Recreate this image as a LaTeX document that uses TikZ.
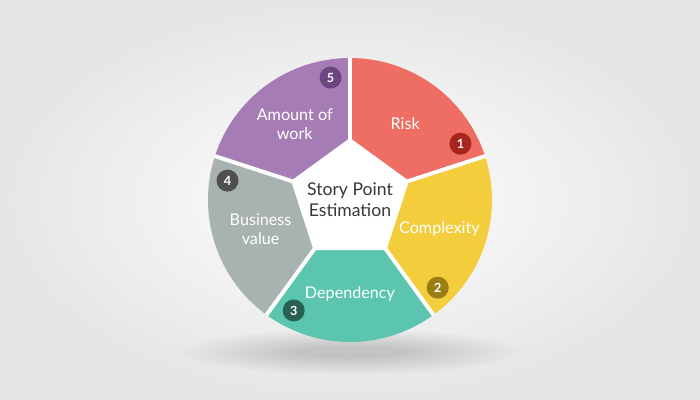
\documentclass[tikz,border=0pt]{standalone}
\usepackage{fontspec}
\setmainfont{Lato}
\definecolor{riskred}{HTML}{EE6E63}
\definecolor{riskdark}{HTML}{A8251C}
\definecolor{complexyellow}{HTML}{F4CD3C}
\definecolor{complexdark}{HTML}{9A7E14}
\definecolor{dependteal}{HTML}{5CC5AF}
\definecolor{dependdark}{HTML}{286052}
\definecolor{businessgrey}{HTML}{A8B2B1}
\definecolor{businessdark}{HTML}{4F4F4F}
\definecolor{amountpurple}{HTML}{A57CB4}
\definecolor{amountdark}{HTML}{6B4683}
\definecolor{centretext}{HTML}{383838}
\newcommand{\segrad}{142}
\newcommand{\pentrad}{62}
\newcommand{\badgerad}{124}
\newcommand{\labelrad}{94}

\begin{document}
\begin{tikzpicture}[x=0.025cm,y=0.025cm,
  badge/.style={circle, inner sep=0pt, minimum size=0.55cm, text=white,
    font=\bfseries\fontsize{9}{9}\selectfont},
  seglabel/.style={text=white, align=center, font=\fontsize{11.5}{13.5}\selectfont}]
% background
\shade[inner color=white, outer color=black!10] (-350,-200) rectangle (350,200);
\useasboundingbox (-350,-200) rectangle (350,200);

% shadow under the wheel
\foreach \k in {1,...,20}
  \fill[black, opacity=0.009] (0,-152) ellipse [x radius=175-6*\k, y radius=24-0.9*\k];

% segments
\foreach \start/\col in {18/riskred, -54/complexyellow, -126/dependteal,
                         162/businessgrey, 90/amountpurple}
  \fill[\col] (0,0) -- (\start:\segrad)
    arc[start angle=\start, end angle=\start+72, radius=\segrad] -- cycle;

% centre pentagon
\fill[white] (90:\pentrad) -- (162:\pentrad) -- (234:\pentrad)
  -- (306:\pentrad) -- (18:\pentrad) -- cycle;

% gaps
\foreach \a in {18,90,162,234,306}
  \draw[white, line width=2.8pt] (\a:\pentrad-4) -- (\a:\segrad);

% labels and numbers
\foreach \start/\dark/\num/\txt in {18/riskdark/1/Risk,
    -54/complexdark/2/Complexity, -126/dependdark/3/Dependency,
    162/businessdark/4/{Business\\value}, 90/amountdark/5/{Amount of\\work}}
{
  \node[seglabel] (label\num) at (\start+36:\labelrad) {\txt};
  \node[badge, fill=\dark] (badge\num) at (\start+9:\badgerad) {\num};
}

\node[text=centretext, align=center, font=\fontsize{12.5}{15}\selectfont]
  (centre) at (0,0) {Story Point\\Estimation};
\end{tikzpicture}
\end{document}
